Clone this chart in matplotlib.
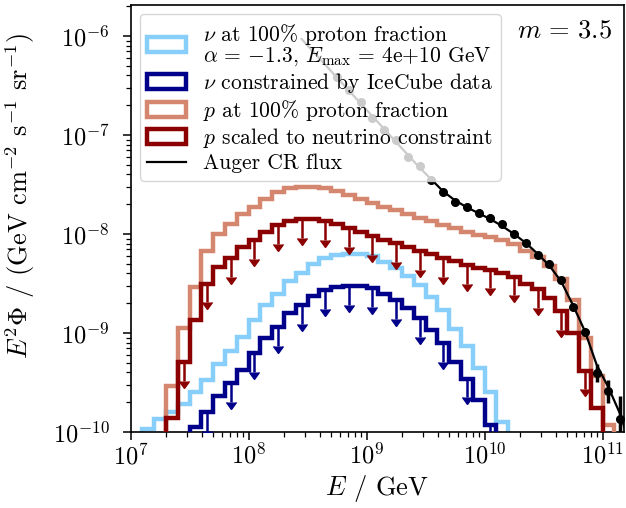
import numpy as np
import matplotlib
matplotlib.use("Agg")
import matplotlib.pyplot as plt

plt.rcParams['font.family'] = 'serif'
plt.rcParams['font.serif'] = ['cmr10']
plt.rcParams['mathtext.fontset'] = 'cm'
plt.rcParams['axes.unicode_minus'] = False
plt.rcParams['axes.formatter.use_mathtext'] = True

# ---------------- data (log10 values) ----------------
# histogram bins: 0.1 dex wide, given by log10 of the lower edge (GeV)
nu_full_start = 7.1
nu_full_log = [-9.97, -9.87, -9.80, -9.72, -9.60, -9.47, -9.31, -9.18, -9.04, -8.87,
               -8.72, -8.61, -8.47, -8.39, -8.30, -8.24, -8.21, -8.20, -8.20, -8.22,
               -8.28, -8.34, -8.42, -8.52, -8.64, -8.77, -8.96, -9.13, -9.35, -9.60,
               -9.90]

nu_con_start = 7.5
nu_con_log = [-9.95, -9.80, -9.64, -9.51, -9.37, -9.20, -9.05, -8.94, -8.80, -8.72,
              -8.63, -8.57, -8.54, -8.53, -8.53, -8.55, -8.61, -8.67, -8.75, -8.85,
              -8.97, -9.10, -9.29, -9.46, -9.68, -9.93]

p_full_start = 7.3
p_full_log = [-9.54, -8.95, -8.54, -8.17, -8.00, -7.90, -7.80, -7.73, -7.65, -7.58,
              -7.54, -7.52, -7.52, -7.54, -7.57, -7.61, -7.65, -7.69, -7.73, -7.76,
              -7.80, -7.84, -7.87, -7.91, -7.94, -7.98, -8.01, -8.03, -8.06, -8.10,
              -8.17, -8.23, -8.32, -8.45, -8.67, -9.05, -9.43, -9.93]

p_con_start = 7.3
p_con_log = [-9.86, -9.29, -8.87, -8.50, -8.33, -8.24, -8.13, -8.06, -7.98, -7.91,
             -7.87, -7.85, -7.85, -7.87, -7.90, -7.94, -7.98, -8.02, -8.06, -8.09,
             -8.13, -8.17, -8.20, -8.24, -8.27, -8.31, -8.34, -8.36, -8.39, -8.43,
             -8.50, -8.56, -8.65, -8.78, -9.00, -9.38, -9.76]

# Auger data points
auger_logE = [8.75, 8.85, 8.95, 9.05, 9.15, 9.25, 9.35, 9.45, 9.55, 9.65, 9.75, 9.85,
              9.95, 10.05, 10.15, 10.25, 10.35, 10.45, 10.55, 10.65, 10.75, 10.85,
              10.95, 11.05, 11.15]
auger_logF = [-6.41, -6.545, -6.667, -6.828, -6.949, -7.05, -7.222, -7.313, -7.455,
              -7.576, -7.677, -7.727, -7.788, -7.838, -7.899, -8.0, -8.091, -8.212,
              -8.303, -8.465, -8.737, -8.99, -9.404, -9.586, -9.869]
auger_err_lo_dex = [0.01] * 21 + [0.02, 0.09, 0.12, 0.40]
auger_err_hi_dex = [0.01] * 21 + [0.02, 0.09, 0.11, 0.23]

# Auger fit curve
fit_logE = [8.45, 8.55, 8.65, 8.75, 8.85, 8.95, 9.05, 9.15, 9.25, 9.35, 9.45, 9.55,
            9.65, 9.75, 9.85, 9.95, 10.05, 10.15, 10.25, 10.35, 10.45, 10.55, 10.65,
            10.75, 10.85, 10.95, 11.05, 11.15, 11.25]
fit_logF = [-6.03, -6.16, -6.29, -6.42, -6.55, -6.68, -6.81, -6.94, -7.07, -7.20,
            -7.33, -7.45, -7.57, -7.66, -7.73, -7.79, -7.85, -7.92, -8.00, -8.09,
            -8.20, -8.32, -8.48, -8.72, -8.98, -9.32, -9.55, -9.82, -10.2]

labels = [r'$\nu$ at 100% proton fraction' + '\n'
          + r'$\alpha$ = $-1.3$, $E_{\max}$ = 4e+10 GeV',
          r'$\nu$ constrained by IceCube data',
          r'$p$ at 100% proton fraction',
          r'$p$ scaled to neutrino constraint',
          'Auger CR flux']

c_lb = '#87CEFA'
c_db = '#00008B'
c_sal = '#D4876E'
c_dr = '#8B0000'

fig = plt.figure(figsize=(6.26, 5.08), dpi=100)
ax = fig.add_axes([0.2085, 0.1496, 0.9968 - 0.2085, 0.9902 - 0.1496])
ax.set_xscale('log')
ax.set_yscale('log')


def hist(start, logvals, color, label, arrows=False, z=2):
    n = len(logvals)
    lo = start + 0.1 * np.arange(n)
    edges = 10 ** np.append(lo, lo[-1] + 0.1)
    vals = 10 ** np.asarray(logvals)
    centers = 10 ** (lo + 0.05)
    _, _, patches = ax.hist(centers, bins=edges, weights=vals, histtype='step',
                            color=color, lw=3.2, label=label, zorder=z)
    if arrows:
        k = np.rint((lo - 7.0) / 0.1).astype(int)
        m = (k % 2 == 0)
        ax.errorbar(centers[m], vals[m], yerr=vals[m] * (1 - 10 ** -0.19),
                    uplims=True, fmt='none', color=color, ecolor=color,
                    elinewidth=1.8, capsize=3.4, capthick=1.0, zorder=z)
    return patches[0]


h1 = hist(nu_full_start, nu_full_log, c_lb, labels[0], z=2)
h2 = hist(nu_con_start, nu_con_log, c_db, labels[1], arrows=True, z=3)
h3 = hist(p_full_start, p_full_log, c_sal, labels[2], z=4)
h4 = hist(p_con_start, p_con_log, c_dr, labels[3], arrows=True, z=5)

fx = 10 ** np.asarray(fit_logE)
fy = 10 ** np.asarray(fit_logF)
h5, = ax.plot(fx, fy, color='black', lw=1.6, zorder=6, label=labels[4])

ax_ = 10 ** np.asarray(auger_logE)
ay = 10 ** np.asarray(auger_logF)
elo = ay - 10 ** (np.asarray(auger_logF) - np.asarray(auger_err_lo_dex))
ehi = 10 ** (np.asarray(auger_logF) + np.asarray(auger_err_hi_dex)) - ay
ax.errorbar(ax_, ay, yerr=[elo, ehi], fmt='o', color='black', ms=5.5,
            elinewidth=2.5, capsize=0, zorder=7)

ax.set_xlim(1e7, 1.52e11)
ax.set_ylim(1e-10, 2.06e-6)

ax.set_xlabel(r'$E$ / GeV', fontsize=19, labelpad=3)
ax.set_ylabel(r'$E^2\Phi$ / (GeV cm$^{-2}$ s$^{-1}$ sr$^{-1}$)', fontsize=19)
ax.yaxis.set_label_coords(-0.19, 0.553)
ax.tick_params(axis='both', which='major', labelsize=17.5, length=6, width=1.1)
ax.tick_params(axis='x', which='major', pad=2)
ax.tick_params(axis='y', which='major', pad=9)
ax.tick_params(axis='both', which='minor', length=3.5, width=0.9)
for s in ax.spines.values():
    s.set_linewidth(1.2)

ax.text(0.976, 0.968, r'$m\,=\,3.5$', transform=ax.transAxes, ha='right', va='top',
        fontsize=19)

leg = ax.legend(handles=[h1, h2, h3, h4, h5], labels=labels, loc='upper left',
                fontsize=15.5, framealpha=0.8, labelspacing=0.15, handlelength=1.8,
                handletextpad=0.8, borderaxespad=0.42, borderpad=0.35)
for t in leg.get_texts():
    t.set_linespacing(0.9)
leg.set_zorder(20)

fig.savefig('out.png', dpi=100)
